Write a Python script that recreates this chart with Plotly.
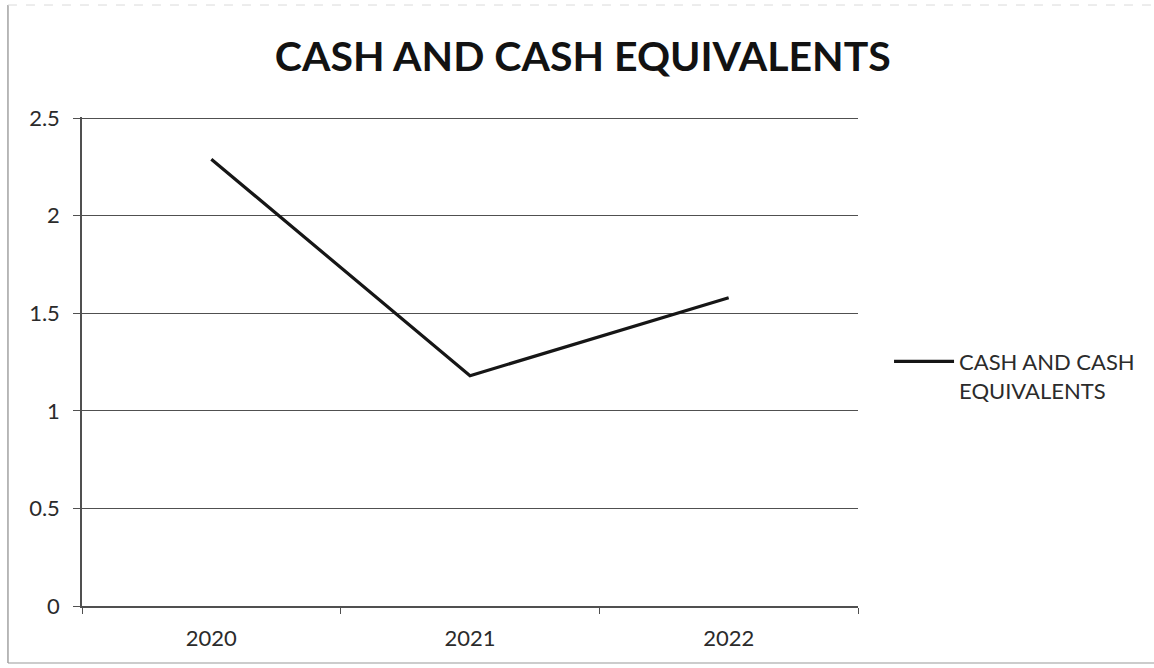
import plotly.graph_objects as go

years = ["2020", "2021", "2022"]
cash = [2.29, 1.18, 1.58]
series_name = "CASH AND CASH<br>EQUIVALENTS"
title_text = "CASH AND CASH EQUIVALENTS"
y_ticks = [0, 0.5, 1, 1.5, 2, 2.5]
y_labels = ["0", "0.5", "1", "1.5", "2", "2.5"]

font_family = "Lato, 'Open Sans', sans-serif"
text_color = "#2b2b2b"
axis_color = "#505050"

fig = go.Figure()
fig.add_trace(go.Scatter(
    x=years, y=cash, mode="lines", name=series_name,
    line=dict(color="#161616", width=3.2),
    showlegend=True,
))

fig.update_layout(
    width=1154, height=668,
    margin=dict(l=82, r=296, t=117, b=62),
    paper_bgcolor="white", plot_bgcolor="white",
    font=dict(family=font_family, size=22, color=text_color),
    title=dict(text="<b>" + title_text + "</b>", x=0.505, xanchor="center",
               y=0.915, yanchor="middle",
               font=dict(family=font_family, size=41, color="#121212")),
    xaxis=dict(
        type="category", showgrid=False, showline=True, linecolor=axis_color,
        linewidth=1.5, ticks="outside", tickson="boundaries", ticklen=6,
        tickcolor=axis_color, tickfont=dict(size=22, color=text_color),
        ticklabelstandoff=12,
        range=[-0.5, 2.5], fixedrange=True,
    ),
    yaxis=dict(
        range=[0, 2.506], tickvals=y_ticks, ticktext=y_labels,
        showgrid=True, gridcolor=axis_color, gridwidth=1.4,
        showline=True, linecolor=axis_color, linewidth=1.5,
        ticks="outside", ticklen=7, tickcolor=axis_color,
        tickfont=dict(size=22, color=text_color), zeroline=False,
        ticklabelstandoff=9,
        fixedrange=True,
    ),
    legend=dict(x=1.04, y=0.47, xanchor="left", yanchor="middle",
                valign="top",
                font=dict(size=22, color=text_color),
                bgcolor="rgba(0,0,0,0)", itemwidth=60, tracegroupgap=0),
    shapes=[
        # frame around the chart area (left, bottom and faint top edges)
        dict(type="line", xref="paper", yref="paper",
             x0=-0.0954, x1=-0.0954, y0=-0.1166, y1=1.229,
             line=dict(color="#8a8a8a", width=1.2)),
        dict(type="line", xref="paper", yref="paper",
             x0=-0.0954, x1=1.39, y0=-0.1166, y1=-0.1166,
             line=dict(color="#9a9a9a", width=1.2)),
        dict(type="line", xref="paper", yref="paper",
             x0=-0.0954, x1=1.39, y0=1.229, y1=1.229,
             line=dict(color="#dadada", width=1, dash="dash")),
    ],
)

fig.write_html("out.html")
